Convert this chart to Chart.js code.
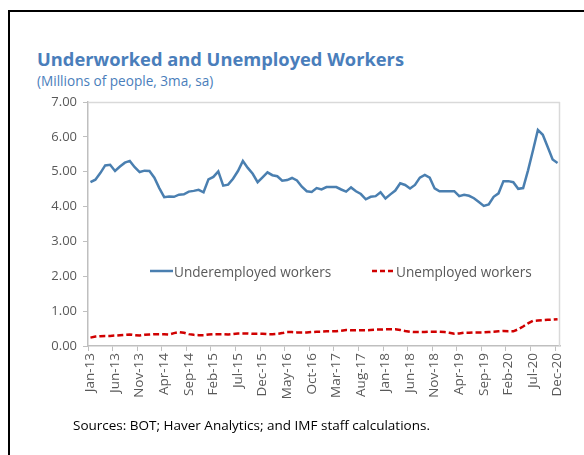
<!DOCTYPE html>
<html>
<head>
<meta charset="utf-8">
<script src="https://cdn.jsdelivr.net/npm/chart.js@4"></script>
<style>
  html, body { margin:0; padding:0; background:#fff; }
  body { width:584px; height:455px; position:relative; overflow:hidden; font-family:"Open Sans", sans-serif; }
  #frame { position:absolute; left:8px; top:10px; width:600px; height:460px; border-left:2px solid #000; border-top:2px solid #000; box-sizing:border-box; }
  #title { position:absolute; left:37px; top:46px; font-size:18.3px; font-weight:bold; color:#4a7ebb; white-space:nowrap; }
  #subtitle { position:absolute; left:37px; top:71px; font-size:13.6px; color:#4a7ebb; white-space:nowrap; }
  #chart { position:absolute; left:0; top:0; }
  .leg { position:absolute; top:262px; font-size:13.6px; color:#595959; white-space:nowrap; }
  #sources { position:absolute; left:73px; top:416px; font-size:13.5px; color:#000; white-space:nowrap; }
</style>
</head>
<body>
<div id="frame"></div>
<div id="title">Underworked and Unemployed Workers</div>
<div id="subtitle">(Millions of people, 3ma, sa)</div>
<canvas id="chart" width="584" height="455"></canvas>
<svg style="position:absolute;left:150px;top:269px" width="24" height="4"><line x1="0" y1="2" x2="23" y2="2" stroke="#4a7fb0" stroke-width="2.5"/></svg>
<div class="leg" style="left:174px">Underemployed workers</div>
<svg style="position:absolute;left:372px;top:269px" width="25" height="4"><line x1="0" y1="2" x2="24" y2="2" stroke="#d00000" stroke-width="2.5" stroke-dasharray="5,3"/></svg>
<div class="leg" style="left:396px">Unemployed workers</div>
<div id="sources">Sources: BOT; Haver Analytics; and IMF staff calculations.</div>
<script>
const categories = [
 "Jan-13","Feb-13","Mar-13","Apr-13","May-13","Jun-13","Jul-13","Aug-13","Sep-13","Oct-13","Nov-13","Dec-13",
 "Jan-14","Feb-14","Mar-14","Apr-14","May-14","Jun-14","Jul-14","Aug-14","Sep-14","Oct-14","Nov-14","Dec-14",
 "Jan-15","Feb-15","Mar-15","Apr-15","May-15","Jun-15","Jul-15","Aug-15","Sep-15","Oct-15","Nov-15","Dec-15",
 "Jan-16","Feb-16","Mar-16","Apr-16","May-16","Jun-16","Jul-16","Aug-16","Sep-16","Oct-16","Nov-16","Dec-16",
 "Jan-17","Feb-17","Mar-17","Apr-17","May-17","Jun-17","Jul-17","Aug-17","Sep-17","Oct-17","Nov-17","Dec-17",
 "Jan-18","Feb-18","Mar-18","Apr-18","May-18","Jun-18","Jul-18","Aug-18","Sep-18","Oct-18","Nov-18","Dec-18",
 "Jan-19","Feb-19","Mar-19","Apr-19","May-19","Jun-19","Jul-19","Aug-19","Sep-19","Oct-19","Nov-19","Dec-19",
 "Jan-20","Feb-20","Mar-20","Apr-20","May-20","Jun-20","Jul-20","Aug-20","Sep-20","Oct-20","Nov-20","Dec-20"
];
const underemployed = [
 4.70,4.77,4.96,5.18,5.20,5.02,5.15,5.26,5.31,5.13,4.99,5.03,
 5.02,4.83,4.53,4.27,4.29,4.28,4.34,4.35,4.43,4.45,4.48,4.41,
 4.78,4.85,5.01,4.60,4.63,4.80,5.02,5.31,5.11,4.94,4.70,4.84,
 4.98,4.90,4.87,4.74,4.76,4.82,4.75,4.57,4.44,4.42,4.53,4.49,
 4.56,4.56,4.56,4.49,4.43,4.55,4.44,4.36,4.21,4.28,4.30,4.41,
 4.23,4.35,4.46,4.67,4.62,4.52,4.62,4.83,4.91,4.83,4.52,4.44,
 4.44,4.44,4.44,4.30,4.34,4.31,4.24,4.13,4.02,4.06,4.28,4.38,
 4.73,4.73,4.70,4.51,4.53,5.04,5.61,6.20,6.06,5.71,5.35,5.25
];
const unemployed = [
 0.24,0.27,0.28,0.29,0.29,0.30,0.31,0.32,0.33,0.31,0.30,0.32,
 0.33,0.34,0.34,0.34,0.33,0.37,0.40,0.38,0.34,0.32,0.31,0.31,
 0.33,0.34,0.34,0.34,0.33,0.34,0.36,0.36,0.36,0.35,0.35,0.35,
 0.34,0.34,0.35,0.37,0.40,0.40,0.39,0.39,0.39,0.40,0.41,0.41,
 0.42,0.42,0.42,0.44,0.46,0.45,0.45,0.45,0.45,0.46,0.47,0.47,
 0.48,0.48,0.48,0.46,0.43,0.41,0.40,0.40,0.40,0.41,0.41,0.41,
 0.40,0.38,0.35,0.36,0.38,0.38,0.39,0.39,0.39,0.40,0.41,0.42,
 0.43,0.42,0.42,0.48,0.56,0.65,0.72,0.73,0.74,0.75,0.76,0.77
];
const yTicks = [0,1,2,3,4,5,6,7];
const labelStep = 5;

const boxPlugin = {
  id: 'box',
  afterDraw(chart) {
    const a = chart.chartArea, ctx = chart.ctx;
    ctx.save();
    ctx.strokeStyle = '#d9d9d9';
    ctx.lineWidth = 1.5;
    ctx.beginPath();
    ctx.moveTo(a.left, a.top + 0.5); ctx.lineTo(a.right, a.top + 0.5);
    ctx.moveTo(a.right - 0.5, a.top); ctx.lineTo(a.right - 0.5, a.bottom);
    ctx.stroke();
    ctx.restore();
  }
};

new Chart(document.getElementById('chart'), {
  type: 'line',
  data: {
    labels: categories,
    datasets: [
      { label: 'Underemployed workers', data: underemployed, borderColor: '#4a7fb0', borderWidth: 2.5, pointRadius: 0, tension: 0, fill: false },
      { label: 'Unemployed workers', data: unemployed, borderColor: '#d00000', borderWidth: 2.5, borderDash: [6,3], pointRadius: 0, tension: 0, fill: false }
    ]
  },
  options: {
    responsive: false,
    animation: false,
    devicePixelRatio: 1,
    layout: { padding: { left: 28, right: 24, top: 102, bottom: 54 } },
    plugins: { legend: { display: false }, tooltip: { enabled: false } },
    scales: {
      x: {
        type: 'category',
        offset: true,
        afterFit(s) { s.height = 55; },
        grid: {
          offset: true,
          drawOnChartArea: false,
          drawTicks: true,
          tickLength: 5,
          color: (c) => (c.index % labelStep === 0 || c.index === categories.length) ? '#bfbfbf' : 'rgba(0,0,0,0)'
        },
        border: { display: true, color: '#bfbfbf', width: 1.5 },
        ticks: {
          autoSkip: false,
          maxRotation: 90,
          minRotation: 90,
          padding: 2,
          color: '#595959',
          font: { family: 'Open Sans', size: 13.5 },
          callback(v, i) { return i % labelStep === 0 ? categories[i] : ''; }
        }
      },
      y: {
        min: 0, max: 7,
        afterFit(s) { s.width = 60; },
        afterBuildTicks(s) { s.ticks = yTicks.map(v => ({ value: v })); },
        grid: { drawOnChartArea: false, drawTicks: true, tickLength: 5, color: '#bfbfbf' },
        border: { display: true, color: '#bfbfbf', width: 1.5 },
        ticks: {
          padding: 6,
          color: '#595959',
          font: { family: 'Open Sans', size: 13 },
          callback(v) { return Number(v).toFixed(2); }
        }
      }
    }
  },
  plugins: [boxPlugin]
});
</script>
</body>
</html>
